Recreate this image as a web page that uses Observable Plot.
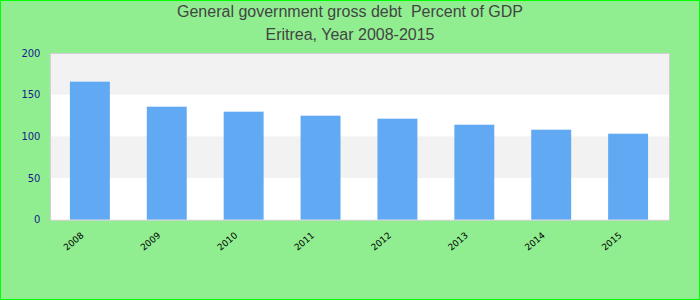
<!DOCTYPE html>
<html><head><meta charset="utf-8">
<script src="https://cdn.jsdelivr.net/npm/d3@7"></script>
<script src="https://cdn.jsdelivr.net/npm/@observablehq/plot@0.6"></script>
<style>
body{margin:0;}
#wrap{position:relative;width:700px;height:300px;box-sizing:border-box;border:1px solid #00ff00;background:#90ee90;overflow:hidden;}
#title{position:absolute;left:0;top:-1px;width:100%;text-align:center;font:16px "Liberation Sans",Arial,sans-serif;color:#444;line-height:23px;padding-top:0}
#chart{position:absolute;left:-1px;top:44px}
</style></head><body>
<div id="wrap"><div id="title"><div>General government gross debt&nbsp; Percent of GDP</div><div>Eritrea, Year 2008-2015</div></div><div id="chart"></div></div>
<script>
const years = ["2008","2009","2010","2011","2012","2013","2014","2015"];
const debt = [165.6, 135.6, 129.6, 124.8, 121.2, 114.0, 108.0, 103.2];
const yTicks = [0, 50, 100, 150, 200];

const data = years.map((y, i) => ({year: y, debt: debt[i]}));
const bands = yTicks.slice(0, -1).map((v, i) => ({y1: v, y2: yTicks[i + 1], i})).filter(d => d.i % 2 === 1);

const chart = Plot.plot({
  width: 700, height: 255,
  marginTop: 8, marginBottom: 80, marginLeft: 50, marginRight: 30,
  style: {background: "transparent", fontFamily: "DejaVu Sans", fontSize: "10px"},
  x: {domain: years, paddingInner: 0.48, paddingOuter: 0.24, label: null},
  y: {domain: [0, 200], label: null},
  marks: [
    Plot.frame({fill: "white"}),
    Plot.barY(bands, {y1: "y1", y2: "y2", fill: "#f2f2f2"}),
    Plot.barY(data, {x: "year", y: "debt", fill: "#62a9f4"}),
    Plot.frame({stroke: "#d0d0d0", strokeWidth: 1}),
    Plot.axisY({ticks: yTicks, tickSize: 0, tickPadding: 10, fill: "#1a1a8c"}),
    Plot.axisX({tickRotate: -40, tickSize: 0, tickPadding: 14, dx: -8, fill: "black", fontSize: 9})
  ]
});
document.getElementById("chart").appendChild(chart);
</script>
</body></html>
